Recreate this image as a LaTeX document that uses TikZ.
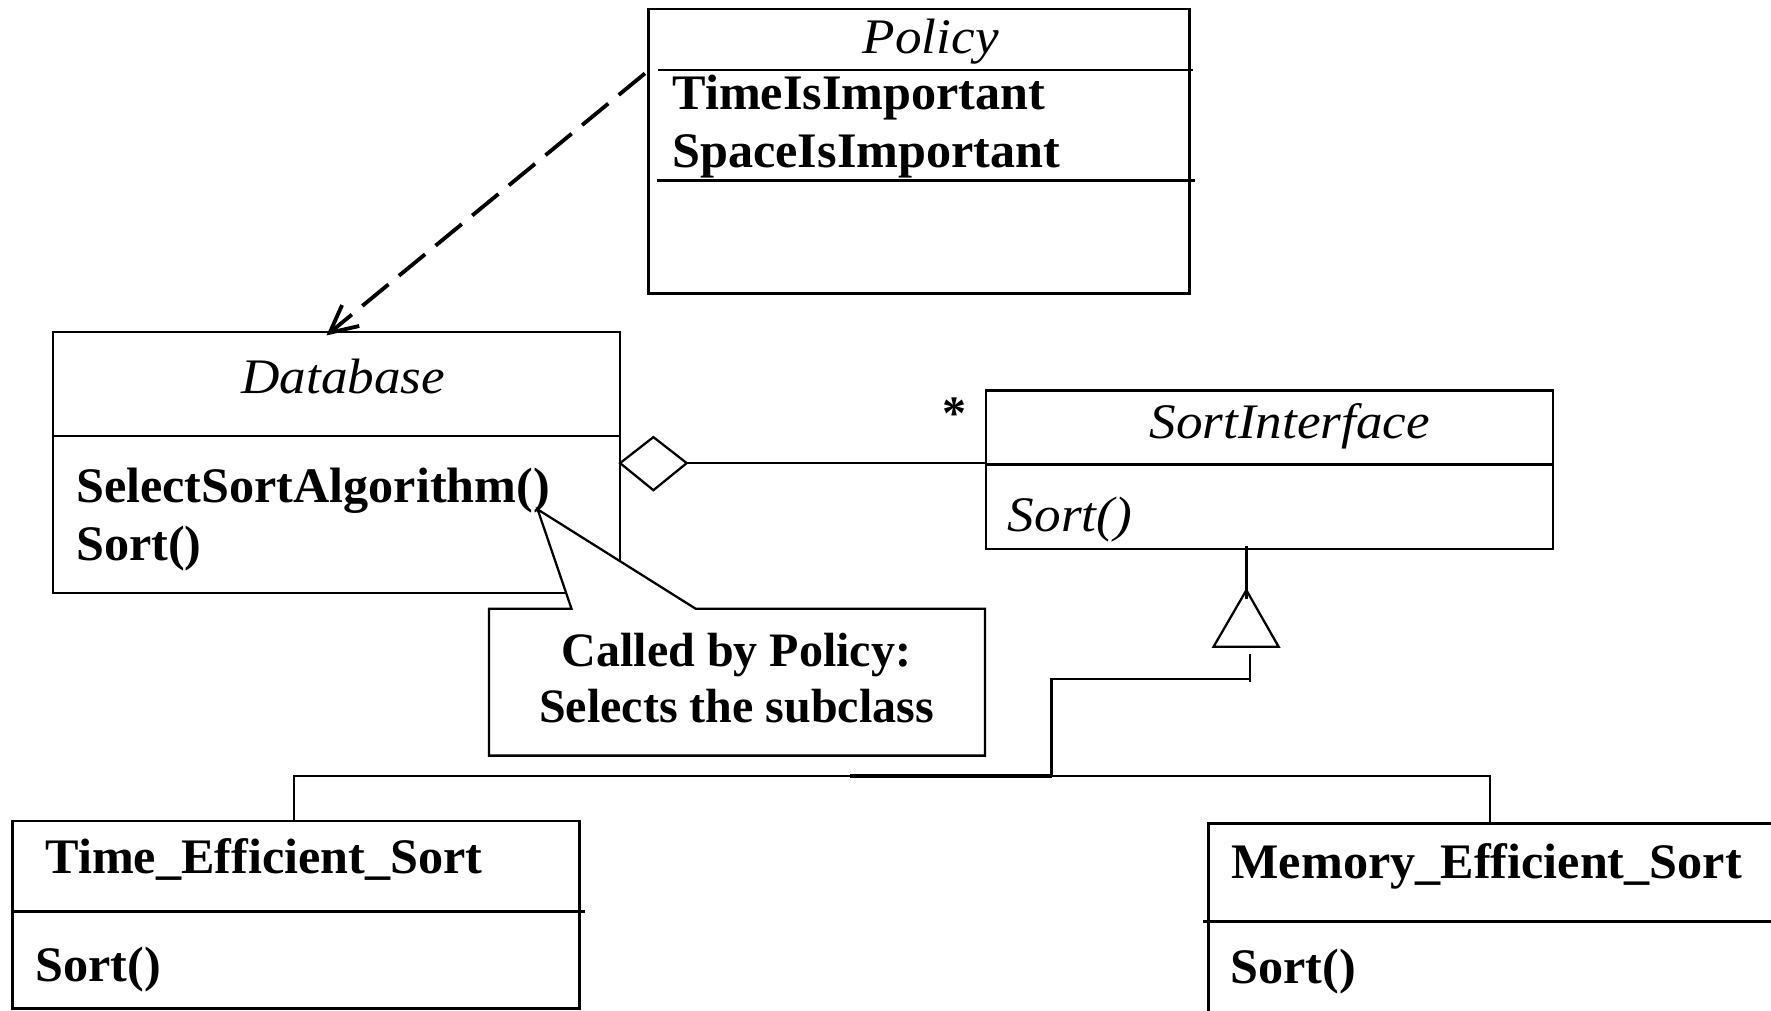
\documentclass[tikz,border=0pt]{standalone}
\usepackage{fontspec}
\setmainfont{Liberation Serif}[FakeStretch=1.01,ItalicFeatures={FakeStretch=1.07}]
\newfontfamily\notefont{Liberation Serif}
\usetikzlibrary{arrows.meta,fit}
\begin{document}
\begin{tikzpicture}[x=0.5pt,y=-0.5pt,
  box/.style={draw,line width=1.2pt,inner sep=0pt},
  rule/.style={line width=1.2pt},
  link/.style={line width=1pt},
  dep/.style={line width=1.7pt,dash pattern=on 15pt off 6pt,
    -{Straight Barb[length=12pt,width=12pt,line width=1.7pt]}},
  lbl/.style={inner sep=0pt,font=\fontsize{22}{26}\selectfont\bfseries},
  ilbl/.style={inner sep=0pt,font=\fontsize{22}{26}\selectfont\itshape},
  notetext/.style={inner sep=0pt,font=\fontsize{21.25}{25}\notefont\bfseries},
]
\useasboundingbox (0,0) rectangle (1568,895);
\clip (0,0) rectangle (1568,895);

% ---- Policy class
\node[box,fit={(574,8) (1053,260)}] (policy) {};
\draw[rule] (583,62) -- (1056,62);
\draw[rule] (582,160) -- (1058,160);
\node[ilbl,anchor=base] (policyname) at (824,47) {Policy};
\node[lbl,anchor=base west] (attr1) at (595,97) {TimeIsImportant};
\node[lbl,anchor=base west] (attr2) at (595,148) {SpaceIsImportant};

% ---- Database class
\node[box,fit={(47,294) (549,525)}] (database) {};
\draw[rule] (database.west |- 0,386) -- (database.east |- 0,386);
\node[ilbl,anchor=base] (dbname) at (304,348) {Database};
\node[lbl,anchor=base west] (dbop1) at (67,445) {SelectSortAlgorithm()};
\node[lbl,anchor=base west] (dbop2) at (67,496) {Sort()};

% ---- SortInterface class
\node[box,fit={(873,346) (1375,486)}] (sortif) {};
\draw[rule] (sortif.west |- 0,411) -- (sortif.east |- 0,411);
\node[ilbl,anchor=base] (sifname) at (1142,388) {SortInterface};
\node[ilbl,anchor=base west] (sifop) at (892,471) {Sort()};

% ---- concrete strategies
\node[box,fit={(11,727) (513,893)}] (timesort) {};
\draw[rule] (11,807) -- (518,807);
\node[lbl,anchor=base west] (tsname) at (40,773) {Time\_Efficient\_Sort};
\node[lbl,anchor=base west] (tsop) at (31,869) {Sort()};

\node[box,fit={(1070,729) (1600,930)}] (memsort) {};
\draw[rule] (1065,816) -- (1600,816);
\node[lbl,anchor=base west] (msname) at (1090,778) {Memory\_Efficient\_Sort};
\node[lbl,anchor=base west] (msop) at (1089,871) {Sort()};

% ---- dependency Policy -> Database
\coordinate (depS) at (571,65);
\coordinate (depE) at (289,297);
\draw[dep] (depS) -- (depE);

% ---- aggregation Database <>-- SortInterface
\coordinate (aggL) at (549,410);
\coordinate (aggR) at (608,410);
\draw[link,fill=white] (aggL) -- (578.5,387) -- (aggR) -- (578.5,434) -- cycle;
\draw[link] (aggR) -- (sortif.west |- aggR);
\node[inner sep=0pt,font=\fontsize{21.25}{25}\notefont\bfseries] (mult) at (845,366) {*};

% ---- note attached to SelectSortAlgorithm()
\coordinate (noteTip) at (476,451);
\draw[link,fill=white] (433,539) -- (506,539) -- (noteTip) -- (616,539)
  -- (872,539) -- (872,669) -- (433,669) -- cycle;
\node[notetext,anchor=base] (note1) at (652,590) {Called by Policy:};
\node[notetext,anchor=base] (note2) at (652,640) {Selects the subclass};

% ---- generalization tree
\coordinate (genTop) at (1103.5,483);
\coordinate (genApex) at (1103.5,522.5);
\draw[link] (genTop) -- (1103.5,530);
\draw[link] (genApex) -- (1132,572.5) -- (1074.5,572.5) -- cycle;
\coordinate (joinA) at (1107,579);
\coordinate (joinB) at (1107,601);
\coordinate (joinC) at (931,601);
\coordinate (joinD) at (931,687);
\draw[link] (joinA) -- (1107,604);
\draw[link] (joinB) -- (joinC) -- (joinD);
\draw[link] (timesort.north -| 260,0) |- (joinD) -| (memsort.north -| 1319.5,0);
\draw[line width=1.5pt] (753,687) -- (joinD);
\end{tikzpicture}
\end{document}
